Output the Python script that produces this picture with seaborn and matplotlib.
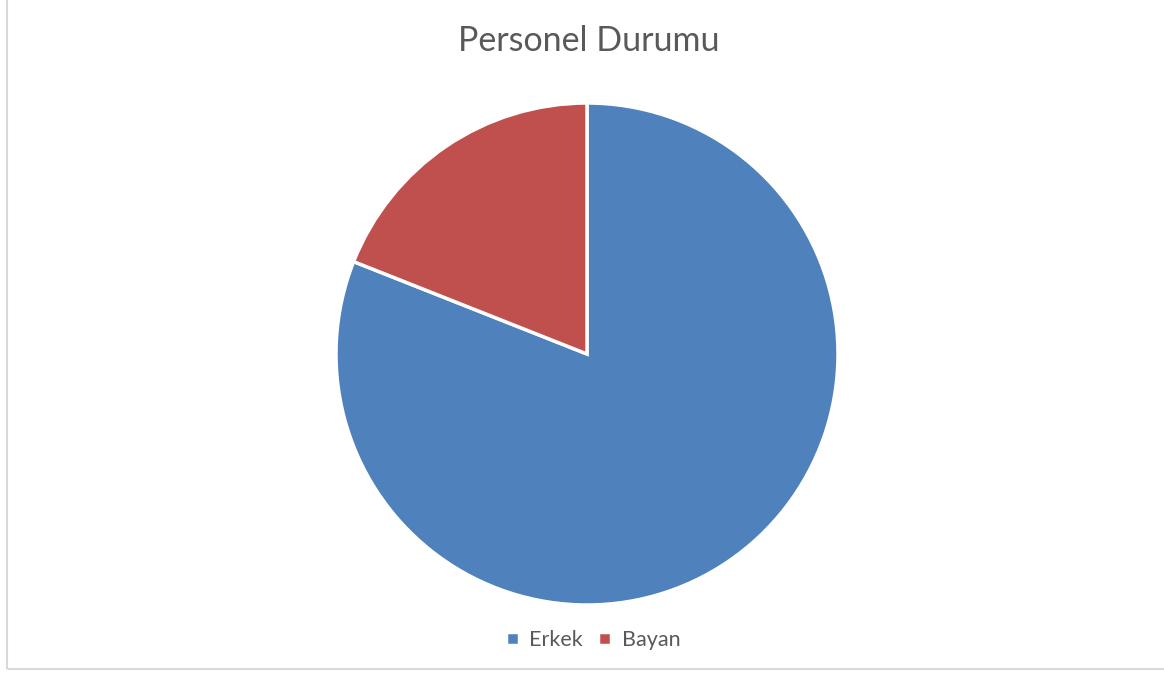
import matplotlib
matplotlib.use("Agg")
import matplotlib.pyplot as plt
import matplotlib.patches as mpatches
import seaborn as sns

# === Data
labels = ["Erkek", "Bayan"]
values = [81, 19]
colors = ["#4F81BD", "#C0504D"]

# === Style
sns.set_theme(style="white")
plt.rcParams["font.family"] = ["Lato", "DejaVu Sans"]

W, H = 1164, 673
fig = plt.figure(figsize=(W / 100, H / 100), dpi=100)

# chart frame (light gray border)
frame = mpatches.Rectangle((7 / W, 4 / H), 1.2, 1.2, transform=fig.transFigure,
                           fill=False, edgecolor="#d9d9d9", linewidth=1.5)
fig.patches.append(frame)

# === Pie
ax = fig.add_axes([336 / W, 68 / H, 502 / W, 502 / H])
wedges, _ = ax.pie(values, colors=colors, startangle=90, counterclock=False,
                   wedgeprops={"edgecolor": "white", "linewidth": 2.5})
ax.set_xlim(-1, 1)
ax.set_ylim(-1, 1)
ax.set_aspect("equal")

fig.text(589 / W, 1 - 41 / H, "Personel Durumu", ha="center", va="center",
         fontsize=24.5, color="#595959")

fig.legend(wedges, labels, loc="center", bbox_to_anchor=(593 / W, 1 - 640 / H),
           ncol=2, frameon=False, fontsize=15.5, handlelength=0.6, handleheight=0.6,
           handletextpad=0.5, columnspacing=0.7, labelcolor="#595959")

fig.savefig("out.png", dpi=100, facecolor="white")
